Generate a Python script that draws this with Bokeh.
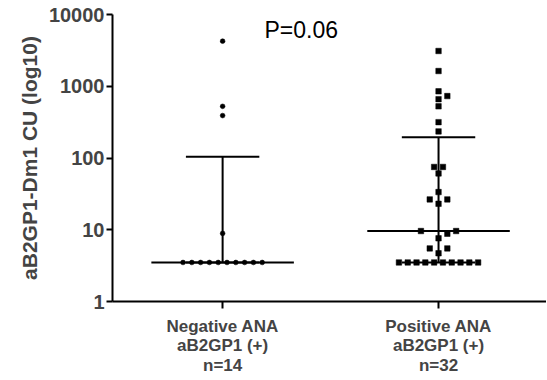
import numpy as np
from bokeh.plotting import figure
from bokeh.models import FixedTicker, Range1d, Label, ColumnDataSource
from bokeh.embed import file_html
from bokeh.resources import INLINE

# ---- data ----
categories = ["Negative ANA\naB2GP1 (+)\nn=14", "Positive ANA\naB2GP1 (+)\nn=32"]
neg_values = [4250, 525, 390, 8.9, 3.5, 3.5, 3.5, 3.5, 3.5, 3.5, 3.5, 3.5, 3.5, 3.5]
pos_values = [3100, 1630, 850, 730, 660, 525, 316, 235, 75, 75, 61, 33.5, 26.5, 26.5, 23,
              9.6, 9.6, 8.8, 7.6, 5.5, 5.5, 4.7,
              3.5, 3.5, 3.5, 3.5, 3.5, 3.5, 3.5, 3.5, 3.5, 3.5]
y_ticks = [1, 10, 100, 1000, 10000]
p_text = "P=0.06"

FONT = "Liberation Sans"
X_START, X_END = 0.49, 2.5
Y_START, Y_END = 1, 10000
W, H = 546, 379
ML, MR, MT, MB = 112, 0, 14, 78
frame_w = W - ML - MR
frame_h = H - MT - MB
px_per_unit = frame_w / (X_END - X_START)
px_per_dec = frame_h / (np.log10(Y_END) - np.log10(Y_START))


def swarm(values, step_px=8.8, dmin=7.0):
    """Simple deterministic beeswarm: returns x offsets (data units)."""
    vals = np.asarray(values, float)
    order = np.argsort(vals, kind="stable")
    ypx = np.log10(vals) * px_per_dec
    placed = []  # (xpx, ypx)
    offs = np.zeros(len(vals))

    def ok(x, y):
        return all((x - px) ** 2 + (y - py) ** 2 >= dmin ** 2 for px, py in placed)

    i = 0
    while i < len(order):
        j = i
        while j + 1 < len(order) and vals[order[j + 1]] == vals[order[i]]:
            j += 1
        run = order[i:j + 1]
        k = len(run)
        y = ypx[run[0]]
        if k == 1:
            cands = [0.0]
            for m in range(1, 40):
                cands += [m * step_px / 2, -m * step_px / 2]
            for c in cands:
                if ok(c, y):
                    break
            offs[run[0]] = c
            placed.append((c, y))
        else:
            g = step_px
            while True:
                xs = []
                half = (k - 1) / 2
                for t in range(k):
                    r = t - half
                    if k % 2 == 0:
                        sgn = 1 if r > 0 else -1
                        xx = sgn * (g / 2 + (abs(r) - 0.5) * step_px)
                    else:
                        xx = 0.0 if r == 0 else np.sign(r) * (g - step_px + abs(r) * step_px)
                    xs.append(xx)
                if all(ok(xx, y) for xx in xs) or g > 10 * step_px:
                    break
                g += step_px
            for idx, xx in zip(run, xs):
                offs[idx] = xx
                placed.append((xx, y))
        i = j + 1
    return offs / px_per_unit


p = figure(width=W, height=H, output_backend="svg", toolbar_location=None,
           y_axis_type="log", x_range=Range1d(X_START, X_END),
           y_range=Range1d(Y_START, Y_END),
           min_border_left=ML, min_border_right=MR, min_border_top=MT,
           min_border_bottom=MB)
p.outline_line_color = None
p.xgrid.visible = False
p.ygrid.visible = False
p.background_fill_color = "white"
p.border_fill_color = "white"

groups = [neg_values, pos_values]
markers = ["circle", "square"]
sizes = [4.8, 5.5]
for gi, vals in enumerate(groups):
    xc = gi + 1
    q1, med, q3 = np.percentile(vals, [25, 50, 75], method="weibull")
    # median line
    p.segment(x0=[xc - 0.33], x1=[xc + 0.33], y0=[med], y1=[med],
              line_color="black", line_width=2)
    # IQR bar
    p.segment(x0=[xc], x1=[xc], y0=[q1], y1=[q3], line_color="black", line_width=2)
    p.segment(x0=[xc - 0.17, xc - 0.17], x1=[xc + 0.17, xc + 0.17],
              y0=[q3, q1], y1=[q3, q1], line_color="black", line_width=2)
    offs = swarm(vals)
    src = ColumnDataSource(dict(x=xc + offs, y=vals))
    p.scatter("x", "y", source=src, marker=markers[gi], size=sizes[gi],
              fill_color="black", line_color="black", line_width=0.5)

p.add_layout(Label(x=1.194, y=5990, text=p_text, text_font=FONT,
                   text_font_size="23px", text_color="black",
                   text_baseline="middle", text_align="left"))

# axes
yax = p.yaxis[0]
yax.ticker = FixedTicker(ticks=y_ticks, minor_ticks=[])
yax.major_label_overrides = {t: str(t) for t in y_ticks}
yax.axis_label = "aB2GP1-Dm1 CU (log10)"
yax.axis_label_text_font = FONT
yax.axis_label_text_font_style = "bold"
yax.axis_label_text_font_size = "21px"
yax.axis_label_standoff = 5
yax.major_label_text_font = FONT
yax.major_label_text_font_style = "bold"
yax.major_label_text_font_size = "20px"
yax.major_label_standoff = 2
yax.axis_line_width = 2
yax.major_tick_line_width = 2
yax.major_tick_out = 6
yax.major_tick_in = 0
yax.minor_tick_line_color = None

xax = p.xaxis[0]
xax.ticker = FixedTicker(ticks=[1, 2], minor_ticks=[])
xax.major_label_overrides = {1: categories[0], 2: categories[1]}
xax.major_label_text_font = FONT
xax.major_label_text_font_style = "bold"
xax.major_label_text_font_size = "17px"
xax.major_label_text_line_height = 1.03
xax.major_label_standoff = 8
xax.axis_line_width = 2
xax.major_tick_line_width = 2
xax.major_tick_out = 7
xax.major_tick_in = 0
xax.minor_tick_line_color = None

open("out.html", "w").write(file_html(p, INLINE))
